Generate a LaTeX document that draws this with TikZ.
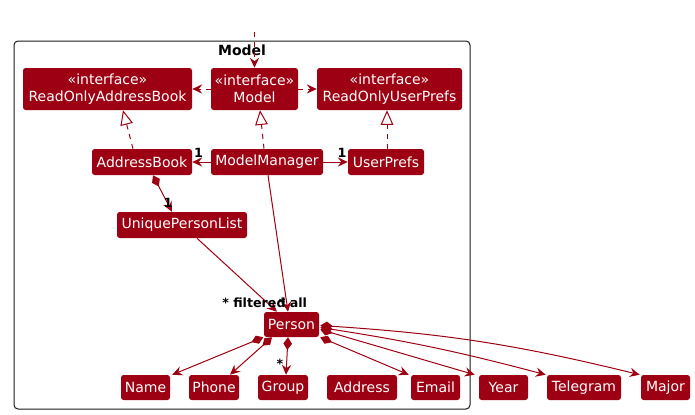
\documentclass[tikz,border=0pt]{standalone}
\usepackage{fontspec}
\setmainfont{DejaVu Sans}
\usetikzlibrary{arrows.meta}
\definecolor{mred}{HTML}{9D0012}
\definecolor{frameline}{HTML}{181818}
\def\upx{0.75pt}
\tikzset{
  box/.style={fill=mred, text=white, rounded corners=2pt, inner sep=0pt, align=center,
    font=\fontsize{10.5}{12.75}\selectfont},
  lbl/.style={inner sep=0pt, font=\fontsize{9.5}{11}\selectfont\bfseries, text=black},
  ln/.style={draw=mred, line width=0.75pt},
  assoc/.style={ln, -{Stealth[length=7.5pt,width=7pt,inset=2.6pt]}},
  depa/.style={assoc, dash pattern=on 3.75pt off 3.75pt},
  real/.style={ln, dash pattern=on 3.75pt off 3.75pt, -{Triangle[length=11pt,width=9.5pt,fill=white,line width=0.75pt]}},
  comp/.style={ln, {Diamond[length=9.5pt,width=6.5pt]}-{Stealth[length=7.5pt,width=7pt,inset=2.6pt]}},
}
\begin{document}
\begin{tikzpicture}[x=0.75pt,y=-0.75pt]
\useasboundingbox (0,0) rectangle (695,414);
% frame
\node[draw=frameline, line width=0.75pt, rounded corners=3pt, minimum width=456*\upx, minimum height=368*\upx, inner sep=0pt] (frame) at (242,225) {};
\node[font=\fontsize{10.5}{12}\selectfont\bfseries, inner sep=0pt] (ftitle) at (242,50) {Model};
% nodes
\node[box, minimum width=169*\upx, minimum height=42*\upx] (roab) at (107.5,89) {«interface»\\ReadOnlyAddressBook};
\node[box, minimum width=87*\upx, minimum height=42*\upx] (model) at (254.5,89) {«interface»\\Model};
\node[box, minimum width=145*\upx, minimum height=42*\upx] (roup) at (389.5,89) {«interface»\\ReadOnlyUserPrefs};
\node[box, minimum width=100*\upx, minimum height=26*\upx] (ab) at (142,162) {AddressBook};
\node[box, minimum width=112*\upx, minimum height=26*\upx] (mm) at (267,162) {ModelManager};
\node[box, minimum width=76*\upx, minimum height=26*\upx] (up) at (386,162) {UserPrefs};
\node[box, minimum width=130*\upx, minimum height=26*\upx] (upl) at (182,225) {UniquePersonList};
\node[box, minimum width=55*\upx, minimum height=25*\upx] (person) at (291.5,324.5) {Person};
\node[box, minimum width=49*\upx, minimum height=25*\upx] (name) at (145.5,387.5) {Name};
\node[box, minimum width=50*\upx, minimum height=25*\upx] (phone) at (214,387.5) {Phone};
\node[box, minimum width=50*\upx, minimum height=25*\upx] (group) at (283,387.5) {Group};
\node[box, minimum width=70*\upx, minimum height=25*\upx] (address) at (362,387.5) {Address};
\node[box, minimum width=49*\upx, minimum height=25*\upx] (email) at (435.5,387.5) {Email};
\node[box, minimum width=49*\upx, minimum height=25*\upx] (year) at (503.5,387.5) {Year};
\node[box, minimum width=74*\upx, minimum height=25*\upx] (telegram) at (584,387.5) {Telegram};
\node[box, minimum width=49*\upx, minimum height=25*\upx] (major) at (665.5,387.5) {Major};
% connectors
\coordinate (top) at (254.5,32);
\draw[depa] (top) -- (model.north);
\draw[depa] (model.west) -- (roab.east);
\draw[depa] (model.east) -- (roup.east -| roup.west);
\draw[real] ([xshift=-9*\upx]ab.north) -- ([xshift=15.5*\upx]roab.south);
\draw[real] ([xshift=-3*\upx]mm.north) -- ([xshift=5.5*\upx]model.south);
\draw[real] ([xshift=1*\upx]up.north) -- ([xshift=-2.5*\upx]roup.south);
\draw[assoc] (mm.west) -- (ab.east);
\draw[assoc] (mm.east) -- (up.west);
\node[lbl] (l1) at (198.5,153) {1};
\node[lbl] (l2) at (342,153) {1};
\draw[comp] ([xshift=11*\upx]ab.south) -- ([xshift=-10*\upx]upl.north);
\node[lbl] (l3) at (168,203) {1};
\draw[assoc] ([xshift=15*\upx]upl.south) -- ([xshift=-14.5*\upx]person.north);
\draw[assoc] ([xshift=1*\upx]mm.south) -- ([xshift=-3.5*\upx]person.north);
\node[lbl, anchor=west] (lf) at (222,302.5) {* filtered};
\node[lbl, anchor=west] (la) at (278.5,302.5) {* all};
% compositions from Person
\draw[comp] ([xshift=-0.5*\upx]person.south west) -- ([xshift=2*\upx]name.north east);
\draw[comp] ([xshift=-19.5*\upx]person.south) -- ([xshift=16*\upx]phone.north);
\draw[comp] ([xshift=-3.5*\upx]person.south) -- ([xshift=3*\upx]group.north);
\node[lbl] (l4) at (280,364) {*};
\draw[comp] ([xshift=1*\upx]person.south east) -- ([xshift=-2*\upx]email.north west);
\draw[comp] ([xshift=1*\upx,yshift=-5*\upx]person.east) -- ([xshift=-4*\upx]year.north west);
\draw[comp] ([xshift=1*\upx,yshift=-3*\upx]person.east) to[bend left=3] ([xshift=-1*\upx]telegram.north west);
\draw[comp] ([xshift=1*\upx,yshift=-1*\upx]person.east) to[bend left=5] ([xshift=-1*\upx]major.north west);
\end{tikzpicture}
\end{document}
